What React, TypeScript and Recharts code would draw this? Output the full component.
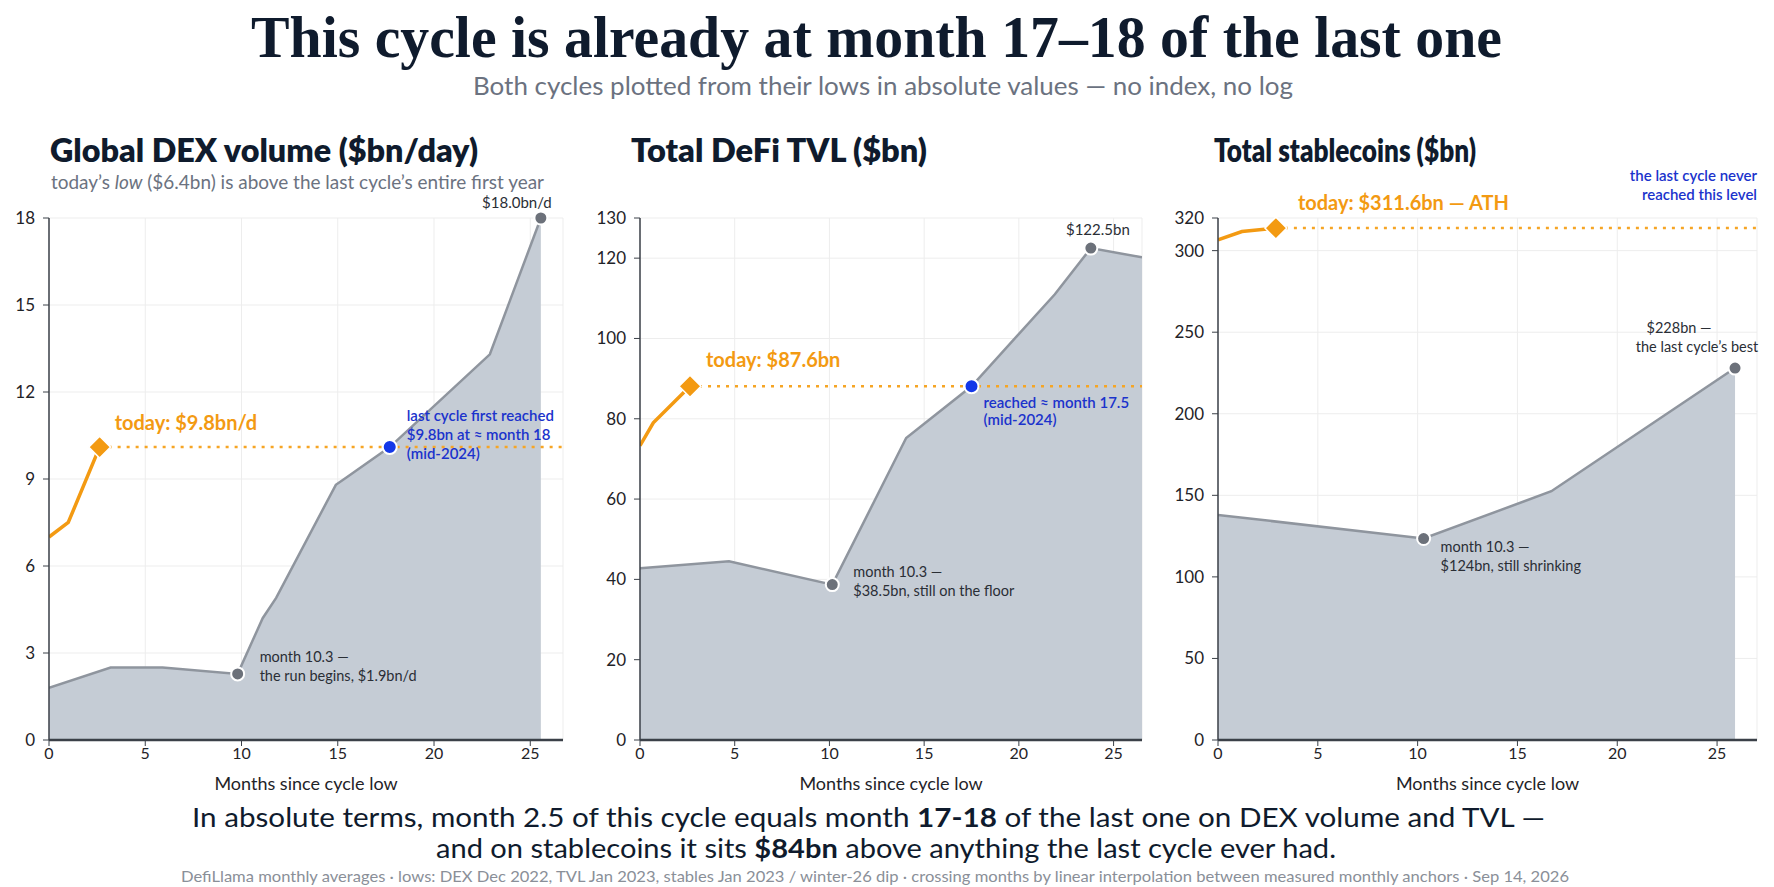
import React from 'react';
import {
  ComposedChart,
  Area,
  Line,
  XAxis,
  YAxis,
  CartesianGrid,
  ReferenceDot,
  ReferenceLine,
} from 'recharts';

const SANS = 'Lato, "Open Sans", "Noto Sans", sans-serif';
const SERIF = '"Liberation Serif", "DejaVu Serif", serif';

const NAVY = '#0f1b2d';
const ORANGE = '#f39a12';
const ORANGE_DOT = '#f6a524';
const BLUE = '#1438e8';
const BLUE_TEXT = '#1b33cc';
const AREA_FILL = '#c5ccd5';
const AREA_STROKE = '#8f959e';
const MARKER = '#6c717a';
const INK = '#2a2e35';
const AXIS = '#3b4048';

const MONTH_TICKS = [0, 5, 10, 15, 20, 25];

// Global DEX volume ($bn/day)
const DEX_LAST_MONTHS = [0, 3.2, 5.9, 9.8, 11.1, 11.8, 14.9, 15.45, 17.7, 22.9, 25.55];
const DEX_LAST_VALUES = [1.8, 2.5, 2.5, 2.28, 4.2, 4.9, 8.8, 9.05, 10.1, 13.3, 18.0];
const DEX_NOW_MONTHS = [0, 1, 2.63];
const DEX_NOW_VALUES = [7.0, 7.5, 10.1];
const DEX_Y_TICKS = [0, 3, 6, 9, 12, 15, 18];

// Total DeFi TVL ($bn)
const TVL_LAST_MONTHS = [0, 4.7, 10.15, 14.05, 17.5, 21.9, 23.8, 26.5];
const TVL_LAST_VALUES = [42.8, 44.5, 38.7, 75.2, 88.1, 111, 122.5, 120.2];
const TVL_NOW_MONTHS = [0, 0.7, 2.64];
const TVL_NOW_VALUES = [73.3, 79, 88.1];
const TVL_Y_TICKS = [0, 20, 40, 60, 80, 100, 120, 130];

// Total stablecoins ($bn)
const STABLE_LAST_MONTHS = [0, 10.3, 16.7, 25.9];
const STABLE_LAST_VALUES = [138, 123.5, 152.5, 228];
const STABLE_NOW_MONTHS = [0, 1.2, 2.9];
const STABLE_NOW_VALUES = [306.6, 311.7, 313.8];
const STABLE_Y_TICKS = [0, 50, 100, 150, 200, 250, 300, 320];

const zip = (ms: number[], vs: number[]) => ms.map((m, i) => ({ m, v: vs[i] }));

type NoteLine = { text: React.ReactNode; dy: number; dx?: number };
type Note = {
  kind: 'diamond' | 'blue' | 'gray' | 'text';
  m: number;
  v: number;
  dx?: number;
  lines?: NoteLine[];
  color?: string;
  size?: number;
  weight?: number;
  anchor?: 'start' | 'middle' | 'end';
};

const textShape = (n: Note) => (p: any) => {
  const cx = p.cx;
  const cy = p.cy;
  return (
    <g>
      {(n.lines || []).map((l, i) => (
        <text
          key={i}
          x={cx + (l.dx !== undefined ? l.dx : n.dx || 0)}
          y={cy + l.dy}
          fill={n.color}
          fontSize={n.size}
          fontWeight={n.weight}
          fontFamily={SANS}
          textAnchor={n.anchor || 'start'}
        >
          {l.text}
        </text>
      ))}
    </g>
  );
};

const diamondShape = (p: any) => {
  const s = 11;
  return (
    <path
      d={`M${p.cx},${p.cy - s} L${p.cx + s},${p.cy} L${p.cx},${p.cy + s} L${p.cx - s},${p.cy} Z`}
      fill={ORANGE}
      stroke="#ffffff"
      strokeWidth={1.5}
    />
  );
};

type PanelProps = {
  left: number;
  yw: number;
  plotW: number;
  xMax: number;
  yMax: number;
  yTicks: number[];
  last: { m: number; v: number }[];
  now: { m: number; v: number }[];
  notes: Note[];
};

const CHART_TOP = 140;
const PLOT_TOP_MARGIN = 78;

function Panel({ left, yw, plotW, xMax, yMax, yTicks, last, now, notes }: PanelProps) {
  const W = yw + plotW + 12;
  const end = now[now.length - 1];
  return (
    <div style={{ position: 'absolute', left, top: CHART_TOP }}>
      <ComposedChart width={W} height={660} margin={{ top: PLOT_TOP_MARGIN, right: 12, bottom: 0, left: 0 }}>
        <CartesianGrid stroke="#ededed" strokeWidth={1} />
        <XAxis
          type="number"
          dataKey="m"
          domain={[0, xMax]}
          ticks={MONTH_TICKS}
          allowDataOverflow
          height={60}
          axisLine={{ stroke: AXIS, strokeWidth: 2.5 }}
          tickLine={{ stroke: AXIS }}
          tickSize={6}
          tick={{ fill: '#1f2328', fontSize: 16, fontFamily: SANS }}
          label={{
            value: 'Months since cycle low',
            position: 'insideBottom',
            offset: 10,
            fill: '#1f2328',
            fontSize: 18,
            fontFamily: SANS,
          }}
        />
        <YAxis
          type="number"
          dataKey="v"
          domain={[0, yMax]}
          ticks={yTicks}
          allowDataOverflow
          width={yw}
          axisLine={{ stroke: AXIS, strokeWidth: 1.5 }}
          tickLine={{ stroke: AXIS }}
          tickSize={6}
          tickMargin={8}
          tick={{ fill: '#1f2328', fontSize: 17, fontFamily: SANS }}
        />
        <Area
          data={last}
          dataKey="v"
          type="linear"
          baseValue={0}
          fill={AREA_FILL}
          fillOpacity={1}
          stroke={AREA_STROKE}
          strokeWidth={2.5}
          dot={false}
          activeDot={false}
          isAnimationActive={false}
        />
        <Line
          data={now}
          dataKey="v"
          type="linear"
          stroke={ORANGE}
          strokeWidth={3.5}
          dot={false}
          activeDot={false}
          isAnimationActive={false}
        />
        <ReferenceLine
          segment={[
            { x: end.m, y: end.v },
            { x: xMax, y: end.v },
          ]}
          stroke={ORANGE_DOT}
          strokeWidth={2.5}
          strokeDasharray="3 6"
          ifOverflow="visible"
        />
        {notes.map((n, i) => {
          if (n.kind === 'diamond') {
            return <ReferenceDot key={i} x={n.m} y={n.v} r={11} ifOverflow="visible" shape={diamondShape} />;
          }
          if (n.kind === 'blue') {
            return (
              <ReferenceDot key={i} x={n.m} y={n.v} r={7} fill={BLUE} stroke="#ffffff" strokeWidth={2} ifOverflow="visible" />
            );
          }
          if (n.kind === 'gray') {
            return (
              <ReferenceDot key={i} x={n.m} y={n.v} r={6.5} fill={MARKER} stroke="#ffffff" strokeWidth={2} ifOverflow="visible" />
            );
          }
          return <ReferenceDot key={i} x={n.m} y={n.v} r={1} ifOverflow="visible" shape={textShape(n)} />;
        })}
      </ComposedChart>
    </div>
  );
}

const dexNotes: Note[] = [
  { kind: 'gray', m: 9.8, v: 2.28 },
  { kind: 'gray', m: 25.55, v: 18 },
  { kind: 'blue', m: 17.7, v: 10.1 },
  { kind: 'diamond', m: 2.63, v: 10.1 },
  { kind: 'text', m: 2.63, v: 10.1, dx: 15, color: ORANGE, size: 20, weight: 700, lines: [{ text: 'today: $9.8bn/d', dy: -17 }] },
  {
    kind: 'text', m: 17.7, v: 10.1, dx: 17, color: BLUE_TEXT, size: 15, weight: 600,
    lines: [
      { text: 'last cycle first reached', dy: -26 },
      { text: '$9.8bn at ≈ month 18', dy: -7 },
      { text: '(mid-2024)', dy: 12 },
    ],
  },
  {
    kind: 'text', m: 9.8, v: 2.28, dx: 22, color: INK, size: 14.5, weight: 400,
    lines: [
      { text: 'month 10.3 —', dy: -12 },
      { text: 'the run begins, $1.9bn/d', dy: 7 },
    ],
  },
  { kind: 'text', m: 25.55, v: 18, dx: -24, color: INK, size: 15, weight: 400, anchor: 'middle', lines: [{ text: '$18.0bn/d', dy: -10 }] },
];

const tvlNotes: Note[] = [
  { kind: 'gray', m: 10.15, v: 38.7 },
  { kind: 'gray', m: 23.8, v: 122.5 },
  { kind: 'blue', m: 17.5, v: 88.1 },
  { kind: 'diamond', m: 2.64, v: 88.1 },
  { kind: 'text', m: 2.64, v: 88.1, dx: 16, color: ORANGE, size: 20, weight: 700, lines: [{ text: 'today: $87.6bn', dy: -19 }] },
  {
    kind: 'text', m: 17.5, v: 88.1, dx: 12, color: BLUE_TEXT, size: 15, weight: 600,
    lines: [
      { text: 'reached ≈ month 17.5', dy: 22 },
      { text: '(mid-2024)', dy: 39 },
    ],
  },
  {
    kind: 'text', m: 10.15, v: 38.7, dx: 21, color: INK, size: 14.5, weight: 400,
    lines: [
      { text: 'month 10.3 —', dy: -8 },
      { text: '$38.5bn, still on the floor', dy: 11 },
    ],
  },
  { kind: 'text', m: 23.8, v: 122.5, dx: 7, color: INK, size: 15, weight: 400, anchor: 'middle', lines: [{ text: '$122.5bn', dy: -13 }] },
];

const stableNotes: Note[] = [
  { kind: 'gray', m: 10.3, v: 123.5 },
  { kind: 'gray', m: 25.9, v: 228 },
  { kind: 'diamond', m: 2.9, v: 313.8 },
  { kind: 'text', m: 2.9, v: 313.8, dx: 22, color: ORANGE, size: 20, weight: 700, lines: [{ text: 'today: $311.6bn — ATH', dy: -18 }] },
  {
    kind: 'text', m: 27, v: 313.8, dx: 0, color: BLUE_TEXT, size: 15, weight: 600, anchor: 'end',
    lines: [
      { text: 'the last cycle never', dy: -47 },
      { text: 'reached this level', dy: -28 },
    ],
  },
  {
    kind: 'text', m: 10.3, v: 123.5, dx: 17, color: INK, size: 14.5, weight: 400,
    lines: [
      { text: 'month 10.3 —', dy: 13 },
      { text: '$124bn, still shrinking', dy: 32 },
    ],
  },
  {
    kind: 'text', m: 25.9, v: 228, color: INK, size: 14.5, weight: 400, anchor: 'middle',
    lines: [
      { text: '$228bn —', dy: -35, dx: -56 },
      { text: 'the last cycle\u2019s best', dy: -16, dx: -38 },
    ],
  },
];

export default function App() {
  return (
    <div style={{ position: 'absolute', left: 0, top: 0, width: 1774, height: 887, background: '#ffffff', overflow: 'hidden' }}>
      <svg width={1774} height={887} style={{ position: 'absolute', left: 0, top: 0 }}>
        <text x={251} y={57} fontFamily={SERIF} fontWeight={700} fontSize={60} fill={NAVY} textLength={1251} lengthAdjust="spacingAndGlyphs">
          This cycle is already at month 17–18 of the last one
        </text>
        <text x={473} y={95} fontFamily={SANS} fontSize={25} fill="#6b7280" textLength={820} lengthAdjust="spacingAndGlyphs">
          Both cycles plotted from their lows in absolute values — no index, no log
        </text>

        <text x={50} y={162} fontFamily={SANS} fontWeight={800} fontSize={32} fill={NAVY} textLength={428} lengthAdjust="spacingAndGlyphs">
          Global DEX volume ($bn/day)
        </text>
        <text x={51} y={189} fontFamily={SANS} fontSize={19} fill="#6b7280" textLength={493} lengthAdjust="spacingAndGlyphs">
          today’s <tspan fontStyle="italic">low</tspan> ($6.4bn) is above the last cycle’s entire first year
        </text>
        <text x={631} y={162} fontFamily={SANS} fontWeight={800} fontSize={32} fill={NAVY} textLength={296} lengthAdjust="spacingAndGlyphs">
          Total DeFi TVL ($bn)
        </text>
        <text x={1214} y={162} fontFamily={SANS} fontWeight={800} fontSize={32} fill={NAVY} textLength={262} lengthAdjust="spacingAndGlyphs">
          Total stablecoins ($bn)
        </text>

        <text x={192} y={827} fontFamily={SANS} fontSize={27.5} fill={NAVY} textLength={1353} lengthAdjust="spacingAndGlyphs">
          In absolute terms, month 2.5 of this cycle equals month <tspan fontWeight={700}>17-18</tspan> of the last one on DEX volume and TVL —
        </text>
        <text x={436} y={858} fontFamily={SANS} fontSize={27.5} fill={NAVY} textLength={900} lengthAdjust="spacingAndGlyphs">
          and on stablecoins it sits <tspan fontWeight={700}>$84bn</tspan> above anything the last cycle ever had.
        </text>
        <text x={181} y={882} fontFamily={SANS} fontSize={16} fill="#8a8f98" textLength={1388} lengthAdjust="spacingAndGlyphs">
          DefiLlama monthly averages · lows: DEX Dec 2022, TVL Jan 2023, stables Jan 2023 / winter-26 dip · crossing months by linear interpolation between measured monthly anchors · Sep 14, 2026
        </text>
      </svg>

      <Panel
        left={9}
        yw={40}
        plotW={514}
        xMax={26.7}
        yMax={18}
        yTicks={DEX_Y_TICKS}
        last={zip(DEX_LAST_MONTHS, DEX_LAST_VALUES)}
        now={zip(DEX_NOW_MONTHS, DEX_NOW_VALUES)}
        notes={dexNotes}
      />
      <Panel
        left={590}
        yw={50}
        plotW={502}
        xMax={26.5}
        yMax={130}
        yTicks={TVL_Y_TICKS}
        last={zip(TVL_LAST_MONTHS, TVL_LAST_VALUES)}
        now={zip(TVL_NOW_MONTHS, TVL_NOW_VALUES)}
        notes={tvlNotes}
      />
      <Panel
        left={1168}
        yw={50}
        plotW={539}
        xMax={27}
        yMax={320}
        yTicks={STABLE_Y_TICKS}
        last={zip(STABLE_LAST_MONTHS, STABLE_LAST_VALUES)}
        now={zip(STABLE_NOW_MONTHS, STABLE_NOW_VALUES)}
        notes={stableNotes}
      />
    </div>
  );
}
